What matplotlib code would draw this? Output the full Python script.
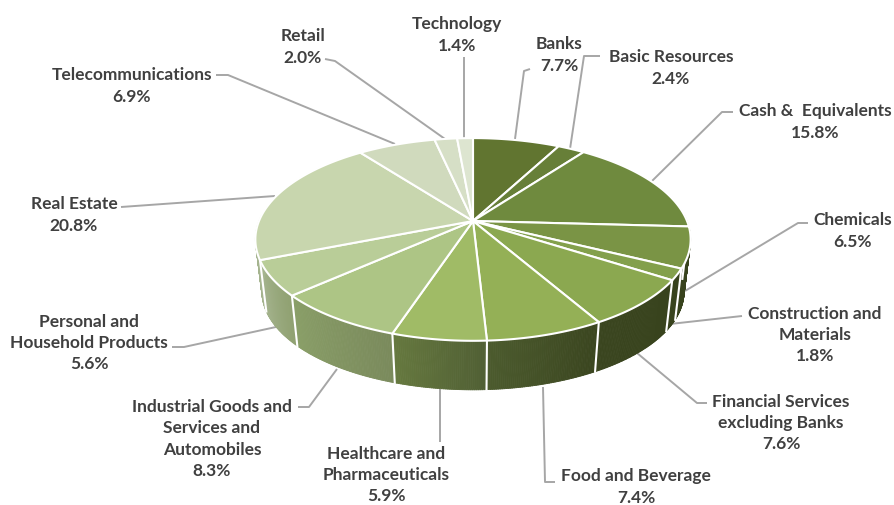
import numpy as np
import matplotlib
matplotlib.use("Agg")
import matplotlib.pyplot as plt
from matplotlib.collections import PolyCollection
from matplotlib.colors import to_rgb

plt.rcParams['font.family'] = ['Lato', 'DejaVu Sans']

names = ["Banks", "Basic Resources", "Cash &  Equivalents", "Chemicals",
         "Construction and\nMaterials", "Financial Services\nexcluding Banks",
         "Food and Beverage", "Healthcare and\nPharmaceuticals",
         "Industrial Goods and\nServices and\nAutomobiles",
         "Personal and\nHousehold Products", "Real Estate",
         "Telecommunications", "Retail", "Technology"]
values = [7.7, 2.4, 15.8, 6.5, 1.8, 7.6, 7.4, 5.9, 8.3, 5.6, 20.8, 6.9, 2.0, 1.4]
top_colors = ["#617530", "#677f38", "#6f8a3e", "#7a9445", "#83a04c", "#8ba850", "#94b056",
              "#a0bb66", "#adc585", "#b9cd98", "#c8d6ae", "#d0dabd", "#d6dfc6", "#dde5d0"]
side_start = ["#333d1a", "#333d1a", "#353f1b", "#38431d", "#38431d", "#38431d", "#3a451f",
              "#505f34", "#7a8a5c", "#8fa070", "#a5b48f", "#b0bc9a", "#b8c4a4", "#c0cbb0"]
side_end = ["#333d1a", "#333d1a", "#38431d", "#38431d", "#38431d", "#3a451f", "#4c5b2e",
            "#66793f", "#8a9f68", "#a5b48f", "#a5b48f", "#a5b48f", "#b0bc9a", "#b8c4a4"]
label_pos = [(559, 55), (671, 68), (815, 122), (853, 231), (815, 335), (781, 423), (636, 487),
             (386, 475), (212, 439), (89, 343), (74, 215), (132, 86), (303, 47), (457, 35)]
leaders = [[(530, 70), (524, 72), (515, 140)],
           [(600, 57), (584, 57), (570, 150)],
           [(733, 113), (722, 113), (652, 182)],
           [(808, 224), (798, 224), (685, 292)],
           [(742, 317), (670, 325)],
           [(707, 404), (697, 404), (637, 354)],
           [(555, 483), (545, 483), (543, 388)],
           [(440, 443), (440, 390)],
           [(298, 408), (309, 408), (337, 370)],
           [(172, 348), (184, 348), (276, 328)],
           [(121, 208), (275, 197)],
           [(216, 76), (228, 76), (395, 145)],
           [(325, 60), (335, 62), (445, 140)],
           [(464, 58), (464, 140)]]

CX, CY = 473.0, 222.0
A, B, K = 214.0, 98.0, 0.182
SCALE, DEPTH = 0.97, 52.6


def top(t):
    u, v = np.sin(t), np.cos(t)
    w = 1 + K * v
    return CX + A * u / w, CY - B * v / w


def bottom(t):
    u, v = np.sin(t), np.cos(t)
    w = 1 + K * v
    return CX + SCALE * A * u / w, CY + DEPTH - SCALE * B * v / w


fig = plt.figure(figsize=(8.95, 5.06), dpi=100)
ax = fig.add_axes([0, 0, 1, 1])
ax.set_xlim(0, 895)
ax.set_ylim(506, 0)
ax.axis("off")

for pts in leaders:
    xs, ys = zip(*pts)
    ax.plot(xs, ys, color="#a6a6a6", lw=1.4, zorder=1, solid_capstyle="butt")

edges = np.concatenate([[0], np.cumsum(values)]) / np.sum(values) * 2 * np.pi

# side wall
quads, cols = [], []
for i in range(len(values)):
    ts = np.linspace(edges[i], edges[i + 1], max(3, int(values[i] * 8)))
    c0, c1 = np.array(to_rgb(side_start[i])), np.array(to_rgb(side_end[i]))
    for j in range(len(ts) - 1):
        a, b = ts[j], ts[j + 1]
        if np.cos(a) > 0.05 and np.cos(b) > 0.05:
            continue
        quads.append([top(a), top(b), bottom(b), bottom(a)])
        cols.append(c0 + (c1 - c0) * (j + 0.5) / (len(ts) - 1))
ax.add_collection(PolyCollection(quads, facecolors=cols, edgecolors=cols, linewidths=0.6, zorder=2))

for e in edges[:-1]:
    if np.cos(e) < 0:
        p, q = top(e), bottom(e)
        ax.plot([p[0], q[0]], [p[1], q[1]], color="white", lw=1.5, zorder=3)

# top face
for i in range(len(values)):
    ts = np.linspace(edges[i], edges[i + 1], max(4, int(values[i] * 6)))
    xs, ys = top(ts)
    ax.fill(np.r_[CX, xs], np.r_[CY, ys], facecolor=top_colors[i], edgecolor="white",
            lw=1.5, joinstyle="round", zorder=4)

# labels
for name, v, (x, y) in zip(names, values, label_pos):
    ax.text(x, y, f"{name}\n{v:.1f}%", ha="center", va="center", fontsize=12.5,
            fontweight="bold", color="#404040", linespacing=1.42, zorder=6)

fig.savefig("out.png", dpi=100)
